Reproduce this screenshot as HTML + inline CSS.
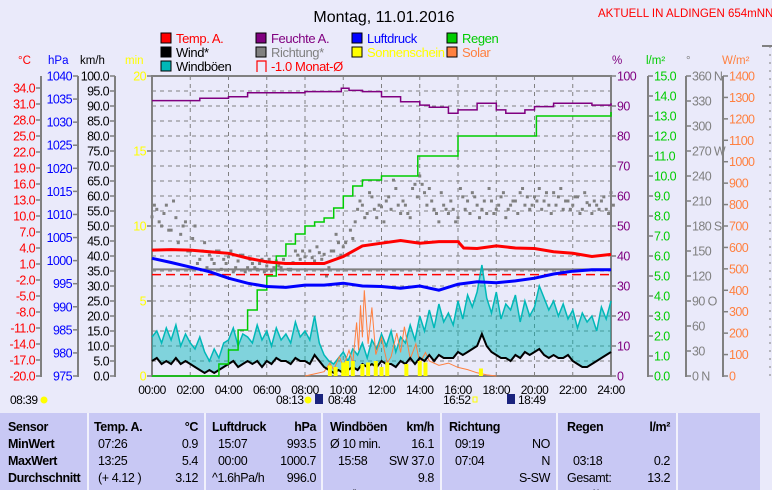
<!DOCTYPE html>
<html><head><meta charset="utf-8">
<style>
html,body{margin:0;padding:0;background:#eaeafa;}
svg{display:block;font-family:"Liberation Sans",sans-serif;}
</style></head>
<body>
<svg id="chart" width="772" height="490" viewBox="0 0 772 490" xmlns="http://www.w3.org/2000/svg">
<rect x="0" y="0" width="772" height="490" fill="#eaeafa"/>
<text x="384" y="22" text-anchor="middle" font-size="16" fill="#000">Montag, 11.01.2016</text>
<text x="598" y="17" font-size="11.5" fill="#f00">AKTUELL IN ALDINGEN 654mNN</text>
<g id="legend" font-size="13"></g>
<g id="axes"></g>
<g id="grid"></g>
<g id="series"></g>
<g id="table"></g>
</svg>
<script>
// ---- data ----
var tempTimes=[0,1,2,3,4,5,6,7,8,9,10,11,12,13,14,15,16,16.3,17,18,19,20,21,22,23,24];
var tempValues=[3.6,3.7,3.6,3.3,3.0,2.1,1.4,1.1,1.1,1.1,2.4,4.4,4.9,5.4,4.9,5.2,5.2,4.0,3.9,4.4,4.0,3.9,3.3,3.0,2.4,2.8];
var pressTimes=[0,1,2,3,4,5,6,7,8,9,10,11,12,13,14,15,16,17,18,19,20,21,22,23,24];
var pressValues=[1000.5,999.6,998.6,997.6,996.2,995.1,994.4,994.2,994.7,994.7,995.1,994.5,994.4,994.0,994.5,993.6,994.9,995.4,995.2,995.6,996.2,997.1,997.7,998.0,998.0];
var humTimes=[0,2.5,4,5,8,9.9,10.3,11,12,13,14,14.5,15.5,16,17,18,18.5,19.5,20,21,23,24];
var humValues=[91.8,92.6,93.1,94.4,94.8,95.9,95.2,94.8,93.1,91.4,90.3,89.6,87.6,88.7,90.9,88.7,87.6,88.7,89.8,90.9,90.3,90.9];
var rainTimes=[0,3.2,3.5,4,4.5,5,5.5,6,6.5,7,7.5,8,8.5,9,9.5,10,10.5,11,12,13.9,16,20.1,24];
var rainValues=[0,0,0.6,1.3,2.3,3.3,4.3,5.0,6.0,6.6,7.1,7.5,7.7,7.9,8.4,9.0,9.5,9.8,10.0,11.0,12.0,13.0,13.2];
var gustValues=[13,15,11,16,12,17,10,14,11,9,13,8,5,9,6,11,12,16,10,14,13,11,17,12,15,10,16,12,14,11,18,13,15,12,20,11,7,5,4,6,8,5,9,7,11,6,12,9,14,10,15,8,13,11,17,12,20,15,22,16,24,18,21,17,25,19,27,23,28,37,26,21,28,19,24,22,27,18,25,20,23,30,26,22,25,20,24,19,22,16,21,18,20,15,23,19,25];
var windValues=[5,6,4,5,4,6,4,5,4,3,2,1,2,1,2,3,4,5,3,4,5,4,5,3,5,4,6,5,5,4,6,5,5,4,7,5,3,2,1,2,1,2,3,2,4,3,4,3,5,4,4,3,5,4,6,4,6,5,7,5,7,6,6,6,8,7,8,9,10,14,10,8,7,6,6,5,7,6,8,7,8,9,7,6,7,6,6,7,5,4,3,3,4,5,6,7,8];
var dirValues=[191,200,180,205,175,190,170,185,150,180,140,160,145,135,150,140,143,125,138,145,130,135,128,140,132,126,138,130,135,128,150,140,143,150,138,148,146,130,150,160,155,145,165,200,205,195,215,190,203,210,200,225,195,205,190,230,240,220,225,200,185,205,195,200,190,215,210,220,205,200,195,210,200,215,190,205,210,220,205,200,215,225,210,205,220,215,200,210,205,215,200,208,195,205,210,200,220];
var dirValues2=[205,185,195,175,210,160,180,150,165,135,150,130,140,150,128,135,150,130,145,125,140,130,135,125,140,130,132,140,128,136,145,150,135,142,155,140,120,150,170,145,160,175,185,210,190,220,200,205,185,215,235,205,210,195,225,215,230,205,210,195,220,200,210,185,225,200,195,215,190,210,225,195,205,220,200,210,195,225,215,205,210,200,220,195,205,225,210,200,215,195,220,205,210,200,215,195,205];
var solarTimes=[8,8.5,9,9.3,9.5,9.8,10,10.3,10.5,10.7,10.8,10.9,11,11.1,11.3,11.5,11.7,12,12.3,12.5,12.8,13,13.2,13.5,13.8,14,14.3,14.5,15,15.5,16,16.5,17,17.5,18];
var solarValues=[0,10,20,60,30,90,40,120,60,250,120,330,180,400,150,320,100,180,60,90,200,110,230,80,150,60,110,70,50,60,40,30,15,5,0];
var sunTimes=[9.3,9.6,10.0,10.2,10.5,11.0,11.3,11.7,12.0,12.3,13.3,14.0,14.3,17.2];
var sunValues=[0.7,0.6,0.9,1.0,1.0,0.8,0.9,1.0,0.6,0.9,0.8,1.0,0.9,0.5];
var monthMean=-1.0;
var xTicks=["00:00","02:00","04:00","06:00","08:00","10:00","12:00","14:00","16:00","18:00","20:00","22:00","24:00"];
var tempTicks=["34.0","31.0","28.0","25.0","22.0","19.0","16.0","13.0","10.0","7.0","4.0","1.0","-2.0","-5.0","-8.0","-11.0","-14.0","-17.0","-20.0"];
var pressTicks=[1040,1035,1030,1025,1020,1015,1010,1005,1000,995,990,985,980,975];
var windTicks=[100,95,90,85,80,75,70,65,60,55,50,45,40,35,30,25,20,15,10,5,0];
var minTicks=[20,15,10,5,0];
var pctTicks=[100,90,80,70,60,50,40,30,20,10,0];
var rainTicks=[15,14,13,12,11,10,9,8,7,6,5,4,3,2,1,0];
var degTicks=[360,330,300,270,240,210,180,150,120,90,60,30,0];
var degDirs={360:"N",270:"W",180:"S",90:"O",0:"N"};
var solTicks=[1400,1300,1200,1100,1000,900,800,700,600,500,400,300,200,100,0];

// ---- scales ----
var X0=152,X1=611,Y0=76,Y1=376;
function x(t){return X0+t*(X1-X0)/24;}
function yPct(v){return Y1-v*3;}
function yTemp(c){return Y1-(c+20)*16/3;}
function yHpa(p){return Y1-(p-975)*300/65;}
function yKmh(v){return Y1-v*3;}
function yRain(r){return Y1-r*20;}
function yDeg(d){return Y1-d/1.2;}
function ySol(w){return Y1-w*300/1400;}
function yMin(m){return Y1-m*15;}

var NS="http://www.w3.org/2000/svg";
function mk(tag,attrs,parent,txt){var e=document.createElementNS(NS,tag);for(var k in attrs)e.setAttribute(k,attrs[k]);if(txt!==undefined)e.textContent=txt;parent.appendChild(e);return e;}
var G=document.getElementById('grid'),A=document.getElementById('axes'),S=document.getElementById('series'),L=document.getElementById('legend'),T=document.getElementById('table');

for(var i=1;i<20;i++){var gy=Y0+i*15;var gl=mk('line',{x1:X0,x2:X1,y1:gy,y2:gy,stroke:'#808080','stroke-dasharray':'4,4','stroke-width':1},G);

}
for(var i=1;i<12;i++){var gx=x(i*2);var vl=mk('line',{x1:gx,x2:gx,y1:Y0,y2:Y1,stroke:'#808080','stroke-dasharray':'4,4','stroke-width':1},G);

}
var fr=mk('rect',{x:X0,y:Y0,width:X1-X0,height:Y1-Y0,fill:'none',stroke:'#808080','stroke-width':2},G);



function axis(name,lineX,ticks,yf,color,side,unit,unitX,fmt){
  var g=mk('g',{},A);
  
  
  mk('line',{x1:lineX,x2:lineX,y1:Y0,y2:Y1+1,stroke:'#808080','stroke-width':2},g);
  ticks.forEach(function(v){var yy=yf(parseFloat(v));
    if(side==='left'){mk('line',{x1:lineX-5,x2:lineX,y1:yy,y2:yy,stroke:'#808080','stroke-width':1.5},g);
      mk('text',{x:lineX-6,y:yy+4.5,'text-anchor':'end','font-size':12.5,'letter-spacing':'-0.6',fill:color},g,fmt?fmt(v):v);}
    else{mk('line',{x1:lineX,x2:lineX+5,y1:yy,y2:yy,stroke:'#808080','stroke-width':1.5},g);
      mk('text',{x:lineX+6,y:yy+4.5,'font-size':12.5,'letter-spacing':'-0.6',fill:color},g,fmt?fmt(v):v);}
  });
  mk('text',{x:unitX,y:64,'font-size':11.5,fill:color},g,unit);
}
axis('temp-axis',41,tempTicks,function(v){return yTemp(v);},'#f00','left','°C',18);
axis('pressure-axis',78,pressTicks,yHpa,'#00f','left','hPa',48);
axis('wind-axis',115,windTicks,yKmh,'#000','left','km/h',80,function(v){return v.toFixed(1);});
axis('sunshine-axis',152,minTicks,yMin,'#ff0','left','min',125);
axis('humidity-axis',611,pctTicks,yPct,'#800080','right','%',612);
axis('rain-axis',648,rainTicks,yRain,'#00cc00','right','l/m²',646,function(v){return v.toFixed(1);});
axis('direction-axis',686,degTicks,yDeg,'#808080','right','°',686,function(v){return v+(degDirs[v]!==undefined?(v===0?'   ':(v===90?'  ':' '))+degDirs[v]:'');});
axis('solar-axis',723,solTicks,ySol,'#ff8040','right','W/m²',722);

xTicks.forEach(function(s,i){var t=mk('text',{x:x(i*2),y:394,'text-anchor':'middle','font-size':12,'letter-spacing':'-0.5',fill:'#000'},A,s);

});

function pts(ts,vs,yf){return ts.map(function(t,i){return x(t).toFixed(1)+','+yf(vs[i]).toFixed(1);}).join(' ');}
function stepPts(ts,vs,yf){var o=[];ts.forEach(function(t,i){if(i>0)o.push(x(t).toFixed(1)+','+yf(vs[i-1]).toFixed(1));o.push(x(t).toFixed(1)+','+yf(vs[i]).toFixed(1));});return o.join(' ');}
var qt=gustValues.map(function(_,i){return i*0.25;});

dirValues.forEach(function(d,i){var r=mk('rect',{x:x(qt[i])-1.5,y:yDeg(d)-1.5,width:3,height:3,fill:'#808080'},S);

});
dirValues2.forEach(function(d,i){var r=mk('rect',{x:x(qt[i]+0.125)-1.5,y:yDeg(d)-1.5,width:3,height:3,fill:'#808080'},S);

});

var zl=mk('line',{x1:X0,x2:X1,y1:yTemp(0),y2:yTemp(0),stroke:'#808080','stroke-width':2},S);


var mm=mk('line',{x1:X0,x2:X1,y1:yTemp(monthMean),y2:yTemp(monthMean),stroke:'#f00','stroke-width':1.5,'stroke-dasharray':'9,5'},S);



var gp=qt.map(function(t,i){return x(t).toFixed(1)+','+yKmh(gustValues[i]).toFixed(1);});
var wp=qt.map(function(t,i){return x(t).toFixed(1)+','+yKmh(windValues[i]).toFixed(1);}).reverse();
var ga=mk('polygon',{points:gp.concat(wp).join(' '),fill:'#00b8b8','fill-opacity':0.45},S);


var gl2=mk('polyline',{points:gp.join(' '),fill:'none',stroke:'#00b8b8','stroke-width':1.5},S);



var sl=mk('polyline',{points:pts(solarTimes,solarValues,ySol),fill:'none',stroke:'#ff8040','stroke-width':1},S);



var wl=mk('polyline',{points:qt.map(function(t,i){return x(t).toFixed(1)+','+yKmh(windValues[i]).toFixed(1);}).join(' '),fill:'none',stroke:'#000','stroke-width':2},S);



sunTimes.forEach(function(t,i){var b=mk('rect',{x:x(t)-2,y:yMin(sunValues[i]),width:4,height:Y1-yMin(sunValues[i]),fill:'#ff0'},S);

});

var rl=mk('polyline',{points:stepPts(rainTimes,rainValues,yRain),fill:'none',stroke:'#00cc00','stroke-width':1.5},S);


var hl=mk('polyline',{points:stepPts(humTimes,humValues,yPct),fill:'none',stroke:'#800080','stroke-width':1.5},S);


var pl=mk('polyline',{points:pts(pressTimes,pressValues,yHpa),fill:'none',stroke:'#00f','stroke-width':3},S);


var tl=mk('polyline',{points:pts(tempTimes,tempValues,yTemp),fill:'none',stroke:'#f00','stroke-width':3},S);



var leg=[[161,38,'#f00','#f00','Temp. A.'],[256,38,'#800080','#800080','Feuchte A.'],[352,38,'#00f','#00f','Luftdruck'],[447,38,'#00cc00','#00cc00','Regen'],
[161,52,'#000','#000','Wind*'],[256,52,'#808080','#808080','Richtung*'],[352,52,'#ff0','#ff0','Sonnenschein'],[447,52,'#ff8040','#ff8040','Solar'],
[161,66,'#00b8b8','#000','Windböen'],[256,66,null,'#f00','-1.0 Monat-Ø']];
leg.forEach(function(l){var g=mk('g',{},L);


if(l[2])mk('rect',{x:l[0],y:l[1]-5,width:10,height:10,fill:l[2],stroke:'#000','stroke-width':1},g);
else mk('path',{d:'M'+(l[0]+1)+','+(l[1]+6)+' V'+(l[1]-5)+' H'+(l[0]+10)+' V'+(l[1]+6),fill:'none',stroke:'#f00','stroke-width':1.2},g);
mk('text',{x:l[0]+15,y:l[1]+5,'letter-spacing':'-0.4',fill:l[3]},g,l[4]);});

var st=[[10,404,'08:39'],[276,404,'08:13'],[328,404,'08:48'],[443,404,'16:52'],[518,404,'18:49']];
st.forEach(function(s){var t=mk('text',{x:s[0],y:s[1],'font-size':12,'letter-spacing':'-0.5',fill:'#000'},A,s[2]);

});
mk('circle',{cx:44,cy:400,r:3.5,fill:'#ff0'},A);
mk('circle',{cx:308,cy:400,r:3.5,fill:'#ff0'},A);
mk('rect',{x:315,y:394,width:8,height:10,fill:'#1a237e'},A);
mk('rect',{x:473,y:397,width:4,height:5,fill:'none',stroke:'#ff0'},A);
mk('rect',{x:507,y:394,width:8,height:10,fill:'#1a237e'},A);
mk('line',{x1:762,x2:772,y1:46,y2:46,stroke:'#808080','stroke-width':2},A);
mk('line',{x1:770,x2:770,y1:46,y2:380,stroke:'#808080','stroke-width':1,'stroke-dasharray':'2,6'},A);

mk('rect',{x:0,y:413,width:760,height:77,fill:'#c8c8f4'},T);
[88,205,322,441,557,677].forEach(function(sx){mk('line',{x1:sx,x2:sx,y1:413,y2:490,stroke:'#fff','stroke-width':1.5},T);});
var rows=[427,444,461,478,495];
function tx(xx,yy,s,anchor,bold){var t=mk('text',{x:xx,y:yy+4,'text-anchor':anchor||'start','font-size':12.5,'letter-spacing':'-0.4','font-weight':bold?'bold':'normal',fill:'#000'},T,s);

}
tx(8,rows[0],'Sensor','start',1);tx(8,rows[1],'MinWert','start',1);tx(8,rows[2],'MaxWert','start',1);tx(8,rows[3],'Durchschnitt','start',1);tx(8,rows[4],'11.01. 08:53','start',1);
tx(94,rows[0],'Temp. A.','start',1);tx(198,rows[0],'°C','end',1);
tx(98,rows[1],'07:26');tx(198,rows[1],'0.9','end');tx(98,rows[2],'13:25');tx(198,rows[2],'5.4','end');tx(98,rows[3],'(+ 4.12 )');tx(198,rows[3],'3.12','end');tx(198,rows[4],'0.9','end',1);
tx(212,rows[0],'Luftdruck','start',1);tx(316,rows[0],'hPa','end',1);
tx(218,rows[1],'15:07');tx(316,rows[1],'993.5','end');tx(218,rows[2],'00:00');tx(316,rows[2],'1000.7','end');tx(212,rows[3],'^1.6hPa/h');tx(316,rows[3],'996.0','end');tx(316,rows[4],'997.0','end',1);
tx(330,rows[0],'Windböen','start',1);tx(434,rows[0],'km/h','end',1);
tx(330,rows[1],'Ø 10 min.');tx(434,rows[1],'16.1','end');tx(338,rows[2],'15:58');tx(434,rows[2],'SW 37.0','end');tx(434,rows[3],'9.8','end');tx(330,rows[4],'0.0°/h');tx(434,rows[4],'14.0','end',1);
tx(449,rows[0],'Richtung','start',1);
tx(455,rows[1],'09:19');tx(550,rows[1],'NO','end');tx(455,rows[2],'07:04');tx(550,rows[2],'N','end');tx(550,rows[3],'S-SW','end');tx(449,rows[4],'198 °');tx(550,rows[4],'S-SW','end',1);
tx(567,rows[0],'Regen','start',1);tx(670,rows[0],'l/m²','end',1);
tx(573,rows[2],'03:18');tx(670,rows[2],'0.2','end');tx(567,rows[3],'Gesamt:');tx(670,rows[3],'13.2','end');tx(567,rows[4],'13.2 l/m²');tx(670,rows[4],'0.0','end',1);
</script>
</body></html>
